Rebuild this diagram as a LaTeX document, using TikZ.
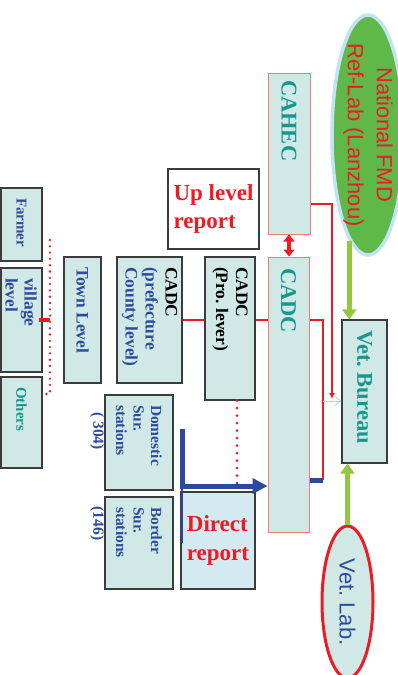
\documentclass[tikz,border=0pt]{standalone}
\usepackage{fontspec}
\setmainfont{Liberation Serif}
\setsansfont{Liberation Sans}
\frenchspacing
\usetikzlibrary{shapes.geometric, arrows.meta}

\definecolor{boxfill}{HTML}{D1E9E6}
\definecolor{boxline}{HTML}{3C3C3C}
\definecolor{pinkline}{HTML}{F07C80}
\definecolor{txtblue}{HTML}{2E4C9C}
\definecolor{txtteal}{HTML}{17978F}
\definecolor{fmdred}{HTML}{ED1C24}
\definecolor{labgreen}{HTML}{60B848}
\definecolor{haloblue}{HTML}{C2E2F5}
\definecolor{arrowgreen}{HTML}{92C83E}
\definecolor{reportfill}{HTML}{D3EAF1}
\definecolor{paleblue}{HTML}{A9D6E5}
\definecolor{arrowblue}{HTML}{2B4A9B}

\tikzstyle{levelbox} = [rectangle, rotate=-90, draw=boxline, line width=1.2pt, fill=boxfill, align=flush left, inner xsep=10pt, inner ysep=1pt, font=\bfseries\fontsize{17.5}{20}\selectfont]
\tikzstyle{smallbox} = [levelbox, text=txtblue, font=\bfseries\fontsize{15.5}{17.5}\selectfont]
\tikzstyle{centrebox} = [levelbox, draw=pinkline, line width=1pt, text=txtteal, font=\bfseries\fontsize{22.5}{26}\selectfont]
\tikzstyle{reportbox} = [rectangle, draw=boxline, line width=1.2pt, align=left, text=fmdred, inner sep=2pt, font=\bfseries\fontsize{23}{28.5}\selectfont]
\tikzstyle{labellipse} = [ellipse, rotate=-90, align=center, font=\sffamily\fontsize{22}{29}\selectfont]
\tikzstyle{countlabel} = [rotate=-90, text=txtblue, font=\bfseries\fontsize{15.5}{17.5}\selectfont]
\tikzstyle{redline} = [draw=fmdred, line width=2.5pt]
\tikzstyle{reddots} = [draw=fmdred, line width=2.8pt, line cap=round, dash pattern=on 0pt off 7.5pt]
\tikzstyle{greenarrow} = [draw=arrowgreen, line width=4.5pt, -{Triangle[length=10pt,width=14pt]}]
\tikzstyle{bluearrow} = [draw=arrowblue, line width=5pt, -{Triangle[length=15pt,width=15pt]}]

\begin{document}
\begin{tikzpicture}[x=1pt, y=-1pt]
\useasboundingbox (0,0) rectangle (397,675);

% labs
\node (nat) [labellipse, fill=labgreen, draw=haloblue, line width=3.5pt, text=fmdred, minimum width=240pt, minimum height=72pt, inner xsep=-10pt, inner ysep=-4pt] at (368,135) {National FMD\\Ref-Lab (Lanzhou)};
\node (vetlab) [labellipse, fill=boxfill, draw=fmdred, line width=3pt, text=txtblue, minimum width=152pt, minimum height=51pt, inner sep=1pt] at (347.5,602) {Vet. Lab.};

% boxes are turned by -90: .north is the right side, .east the bottom
\node (farmer) [levelbox, minimum width=73pt, minimum height=41pt, text width=53pt, text=txtblue, font=\bfseries\fontsize{15}{17}\selectfont] at (21.5,224.5) {Farmer};
\node (village) [levelbox, minimum width=104pt, minimum height=41pt, text width=84pt, text=txtblue] at (21.5,320) {\raisebox{-16pt}[0pt][0pt]{\shortstack[l]{village\\level}}};
\node (others) [levelbox, minimum width=91pt, minimum height=41pt, text width=71pt, text=txtteal, font=\bfseries\fontsize{15}{17}\selectfont] at (21.5,422.5) {Others};

\node (town) [levelbox, minimum width=126pt, minimum height=37pt, text width=106pt, text=txtblue] at (82.5,320) {Town Level};
\node (pref) [levelbox, minimum width=126pt, minimum height=65pt, text width=106pt, text=txtblue] at (149.5,320) {\textcolor{black}{CADC}\\(prefecture\\County level)};
\node (pro) [levelbox, minimum width=143pt, minimum height=50pt, text width=123pt] at (230,328.5) {CADC\\(Pro. lever)};

\node (cahec) [centrebox, minimum width=161pt, minimum height=42pt, inner xsep=7pt, text width=147pt] at (289,153.5) {CAHEC};
\node (cadc) [centrebox, minimum width=275pt, minimum height=41pt, inner xsep=11pt, text width=253pt] at (288.5,394.5) {CADC};
\node (bureau) [centrebox, draw=boxline, line width=1.2pt, minimum width=143pt, minimum height=45pt, text width=123pt] at (364.5,391.5) {Vet. Bureau};

\node (domestic) [smallbox, minimum width=95pt, minimum height=68pt, text width=75pt] at (139,442.5) {Domestic\\Sur.\\stations};
\node (border) [smallbox, minimum width=92pt, minimum height=68pt, text width=72pt] at (139,543) {Border\\Sur.\\stations};
\node (domcount) [countlabel] at (97,431) {( 304)};
\node (bordercount) [countlabel] at (97,523.5) {(146)};

\node (uplevel) [reportbox, fill=white, minimum width=91pt, minimum height=80pt] at (213.5,209) {Up level\\report};
\node (direct) [reportbox, fill=reportfill, minimum width=74pt, minimum height=97pt] at (218,540.5) {Direct\\report};

\coordinate (dtop) at (50,240);
\coordinate (dbot) at (50,394);
\coordinate (dotend) at (237,484);
\coordinate (bluetop) at (182,429);
\coordinate (bluecorner) at (182,486);
\coordinate (bluefoot) at (182,543);
\coordinate (loopc) at (323,480);
\coordinate (vbtap) at (332,399);
\coordinate (vbin) at (323,401);

\draw [reddots, line width=2.6pt, dash pattern=on 0pt off 6.3pt] (dtop) -- (dbot) -- (dbot -| others.north);
\draw [redline, line width=3.5pt] ([xshift=-4pt]village.north) -- (village.north -| dtop);

\draw [redline] (pref.north) -- (pref.north -| pro.south);
\draw [redline] (pro.north |- pref.north) -- (cadc.south |- pref.north);
\draw [redline] (cadc.north |- pref.north) -| (loopc);
\draw [draw=arrowblue, line width=5pt] (loopc) -- (loopc -| cadc.north);
\draw [redline, -{Latex[length=6pt,width=6pt]}] ([yshift=-50.5pt]cahec.north) -| (vbtap);
\draw [draw=paleblue, line width=0.8pt, -{Straight Barb[length=6pt,width=10pt]}] (vbin) -- (vbin -| bureau.south);
\draw [redline, line width=4pt, {Triangle[length=7pt,width=11pt]}-{Triangle[length=7pt,width=11pt]}] (cahec.east) -- (cahec.east |- cadc.west);

\draw [greenarrow] (nat.-10) -- (nat.-10 |- bureau.west);
\draw [greenarrow] (vetlab.west) -- (vetlab.west |- bureau.east);

\draw [reddots] (dotend |- pro.east) -- (dotend);
\draw [draw=arrowblue, line width=1.2pt] (bluecorner) -- (bluefoot);
\draw [bluearrow] (bluetop) -- (bluecorner) -- (bluecorner -| cadc.south);

\end{tikzpicture}
\end{document}
